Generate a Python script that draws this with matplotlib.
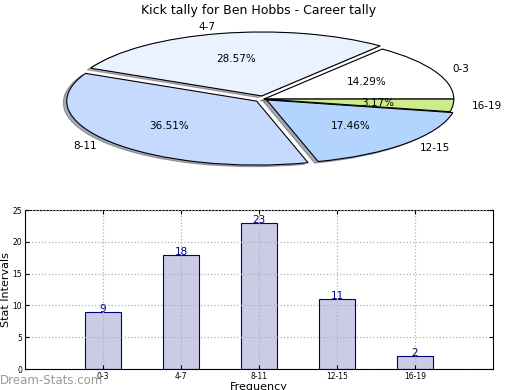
import matplotlib
matplotlib.use("Agg")
import matplotlib.pyplot as plt

# data
categories = ["0-3", "4-7", "8-11", "12-15", "16-19"]
counts = [9, 18, 23, 11, 2]
pie_colors = ["#ffffff", "#eaf1ff", "#c6d9ff", "#b3d4ff", "#cceb8a"]
explode = [0, 0.05, 0.05, 0.02, 0]

fig = plt.figure(figsize=(5.2, 3.9), dpi=100)

# pie (stretched into an ellipse)
ax1 = fig.add_axes([0.051, 0.541, 0.913, 0.410])
ax1.pie(counts, labels=categories, colors=pie_colors, explode=explode,
        autopct="%1.2f%%", startangle=0,
        shadow={"ox": -0.013, "oy": -0.018, "shade": 0.6},
        labeldistance=1.1, pctdistance=0.6,
        wedgeprops={"edgecolor": "black", "linewidth": 0.8},
        textprops={"fontsize": 7.5})
ax1.set_aspect("auto")
ax1.set_xlim(-1.25, 1.25)
ax1.set_ylim(-1.25, 1.25)
fig.text(0.498, 0.974, "Kick tally for Ben Hobbs - Career tally",
         ha="center", va="center", fontsize=9)

# bars
ax2 = fig.add_axes([0.048, 0.0538, 0.9, 0.4077])
x = range(len(categories))
ax2.bar(x, counts, width=0.46, color="#cbcbe5",
        edgecolor="#000080", linewidth=0.8)
for i, v in zip(x, counts):
    ax2.text(i, v, str(v), ha="center", va="baseline", color="#000080", fontsize=7.5)
ax2.set_xlim(-1, 5)
ax2.set_ylim(0, 25)
ax2.set_xticks(list(x))
ax2.set_xticklabels(categories)
ax2.set_yticks([0, 5, 10, 15, 20, 25])
ax2.tick_params(labelsize=5.5, direction="in", top=True, right=True, length=3, pad=2)
ax2.grid(True, linestyle=":", color="#b0b0b0", linewidth=0.9)
ax2.set_axisbelow(False)
ax2.set_ylabel("Stat Intervals", fontsize=8, labelpad=1)
ax2.set_xlabel("Frequency", fontsize=8, labelpad=1)

fig.text(0.0, 1 - 381 / 390, "Dream-Stats.com", ha="left", va="center",
         color="#999999", fontsize=8.5)

fig.savefig("out.png", dpi=100)
